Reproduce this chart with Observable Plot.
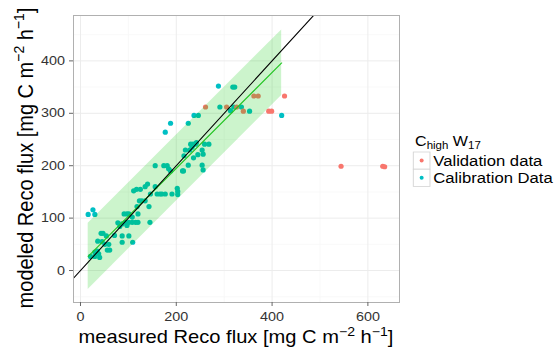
<!DOCTYPE html>
<html><head><meta charset="utf-8">
<script src="https://cdn.jsdelivr.net/npm/d3@7"></script>
<script src="https://cdn.jsdelivr.net/npm/@observablehq/plot@0.6"></script>
<style>
html,body{margin:0;padding:0;background:#fff;}
#chart{position:relative;width:556px;height:356px;}
</style></head><body><div id="chart"></div>
<script>
// Calibration data (measured, modeled)
const calX = [16,26,30,21,30,35,40,30,38,43,47,36,45,54,51,56,61,59,71,78,82,87,91,97,101,94,101,108,115,120,101,109,108,120,111,117,125,118,123,128,135,140,135,145,143,146,156,160,166,170,177,156,174,181,184,188,191,202,203,203,177,188,213,215,225,216,219,228,230,235,240,242,233,236,245,254,256,259,268,254,256,225,237,246,288,318,322,291,313,320,336,353,420,87,97,87];
const calY = [107,116,107,27,35,37,25,27,32,71,71,56,55,66,50,39,39,50,67,91,84,54,108,108,108,92,92,92,92,92,66,54,102,108,152,155,155,122,133,133,133,165,160,92,122,146,160,146,146,146,146,200,200,200,194,190,146,157,151,145,264,281,190,190,201,219,230,230,241,241,241,244,235,215,221,230,222,241,241,201,192,281,296,296,352,350,350,312,305,312,312,304,296,89,86,66];
// Validation data
const valX = [261,305,326,340,362,371,393,399,426,544,631,635];
const valY = [312,312,312,304,333,333,304,304,333,199,199,198];

const seriesNames = ["Validation data", "Calibration Data"];
const seriesColors = ["#F8766D", "#00BFC4"];

// fitted line and its band
const fitX = [16, 420];
const fitY = [27, 396];
const bandLo = [-36, 334];
const bandHi = [90, 459];
// 1:1 line
const oneX = [-100, 700];

const xTicks = [0, 200, 400, 600];
const xMinor = [100, 300, 500];
const yTicks = [0, 100, 200, 300, 400];
const yMinor = [-50, 50, 150, 250, 350, 450];

const points = [
  ...calX.map((x, i) => ({x, y: calY[i], s: seriesNames[1]})),
  ...valX.map((x, i) => ({x, y: valY[i], s: seriesNames[0]}))
];
const band = fitX.map((x, i) => ({x, lo: bandLo[i], hi: bandHi[i]}));
const fit = fitX.map((x, i) => ({x, y: fitY[i]}));
const one = oneX.map(x => ({x, y: x}));

const FONT = "'Liberation Sans', Arial, Helvetica, sans-serif";
const SX = 1.15;

const plot = Plot.plot({
  width: 556, height: 356,
  marginLeft: 73, marginRight: 157, marginTop: 15, marginBottom: 54,
  style: {fontFamily: FONT, background: "#fff", overflow: "visible"},
  x: {domain: [-14.6, 666]},
  y: {domain: [-61, 486.6]},
  color: {domain: seriesNames, range: seriesColors},
  marks: [
    Plot.gridX(xMinor, {stroke: "#f6f6f6", strokeOpacity: 1, strokeWidth: 0.7}),
    Plot.gridY(yMinor, {stroke: "#f6f6f6", strokeOpacity: 1, strokeWidth: 0.7}),
    Plot.gridX(xTicks, {stroke: "#ececec", strokeOpacity: 1, strokeWidth: 1}),
    Plot.gridY(yTicks, {stroke: "#ececec", strokeOpacity: 1, strokeWidth: 1}),
    Plot.dot(points, {x: "x", y: "y", fill: "s", r: 2.6}),
    Plot.areaY(band, {x: "x", y1: "lo", y2: "hi", fill: "#00c800", fillOpacity: 0.2}),
    Plot.line(fit, {x: "x", y: "y", stroke: "#22c422", strokeWidth: 1.1}),
    Plot.line(one, {x: "x", y: "y", stroke: "#000", strokeWidth: 1.1, clip: true}),
    Plot.frame({stroke: "#b0b0b0", strokeWidth: 1}),
    Plot.axisX(xTicks, {tickSize: 4, tickPadding: 6, fontSize: 12.5, label: null, color: "#333"}),
    Plot.axisY(yTicks, {tickSize: 4, tickPadding: 4.5, fontSize: 12.5, label: null, color: "#333"})
  ]
});
document.getElementById("chart").appendChild(plot);

const svg = d3.select(plot);

// stretch tick labels horizontally
svg.selectAll('g[aria-label="x-axis tick label"] text, g[aria-label="y-axis tick label"] text').each(function() {
  const t = this.getAttribute("transform");
  if (t && t.includes("translate")) {
    this.setAttribute("transform", t + ` scale(${SX},1)`);
  } else {
    const x = +this.getAttribute("x") || 0, y = +this.getAttribute("y") || 0;
    this.setAttribute("x", 0); this.setAttribute("y", 0);
    this.setAttribute("transform", `translate(${x},${y}) scale(${SX},1)`);
  }
});
svg.selectAll('g[aria-label="x-axis tick"] path, g[aria-label="y-axis tick"] path').attr("stroke", "#666");

function unitText(sel, prefix, size) {
  const sup = size * 0.7, up = size * 0.42;
  sel.append("tspan").text(prefix + " [mg C m");
  sel.append("tspan").attr("font-size", sup).attr("dy", -up).text("−2");
  sel.append("tspan").attr("dy", up).text(" h");
  sel.append("tspan").attr("font-size", sup).attr("dy", -up).text("−1");
  sel.append("tspan").attr("dy", up).text("]");
}

// x title
const xt = svg.append("text")
  .attr("transform", `translate(236,343) scale(${SX},1)`)
  .attr("text-anchor", "middle").attr("font-size", 17.5).attr("fill", "#000")
  .attr("font-family", FONT);
unitText(xt, "measured Reco flux", 17.5);

// y title
const yt = svg.append("text")
  .attr("transform", `translate(33,158) scale(1.1,1) rotate(-90)`)
  .attr("text-anchor", "middle").attr("font-size", 20).attr("fill", "#000")
  .attr("font-family", FONT);
unitText(yt, "modeled Reco flux", 20);

// legend
const lg = svg.append("g").attr("transform", `translate(413.3,0) scale(${SX},1)`)
  .attr("font-family", FONT).attr("text-anchor", "start");
const lt = lg.append("text").attr("x", 1.5).attr("y", 146).attr("font-size", 14).attr("fill", "#000")
  .attr("text-anchor", "start");
lt.append("tspan").text("C");
lt.append("tspan").attr("font-size", 10).attr("dy", 3).text("high");
lt.append("tspan").attr("dy", -3).text(" W");
lt.append("tspan").attr("font-size", 10).attr("dy", 3).text("17");

const keyW = 14.5, keyH = 17.2, keyTop = 152;
seriesNames.forEach((name, i) => {
  const y0 = keyTop + i * keyH;
  lg.append("rect").attr("x", 0).attr("y", y0).attr("width", keyW).attr("height", keyH)
    .attr("fill", "#fff").attr("stroke", "#d4d4d4").attr("stroke-width", 0.8);
  lg.append("ellipse").attr("cx", keyW / 2).attr("cy", y0 + keyH / 2).attr("rx", 2 / SX).attr("ry", 2)
    .attr("fill", seriesColors[i]);
  lg.append("text").attr("x", 17.4).attr("y", y0 + keyH / 2 + 5.2).attr("font-size", 14.5)
    .attr("text-anchor", "start").attr("fill", "#000").text(name);
});
</script>
</body></html>
